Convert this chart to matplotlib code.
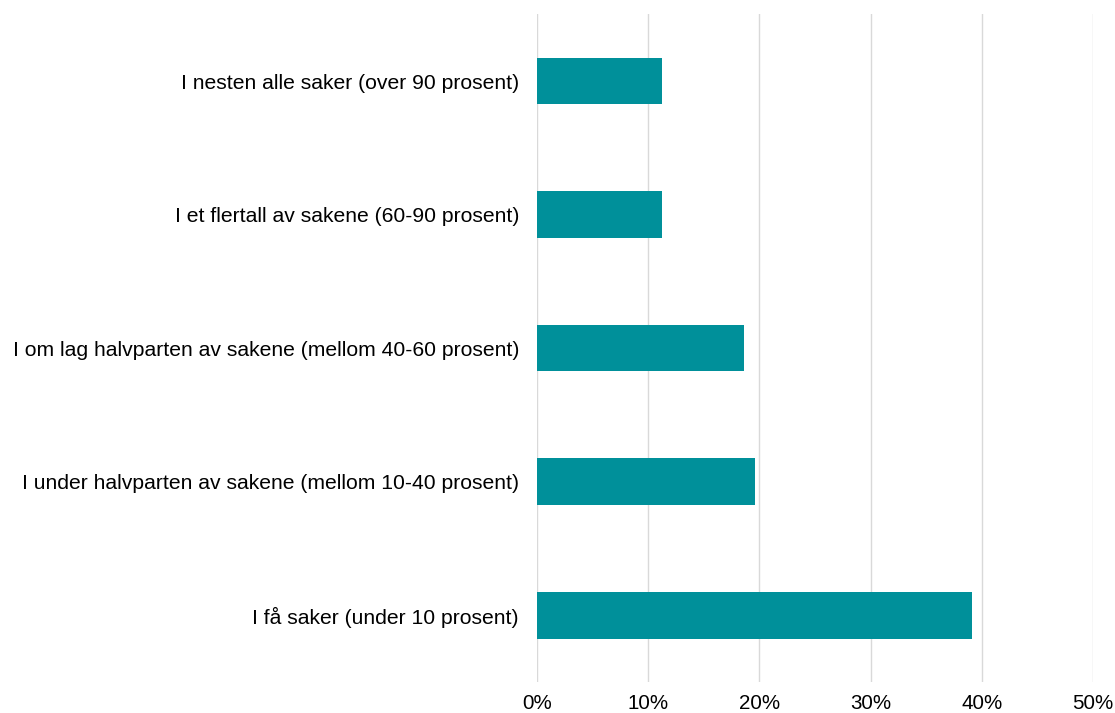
import matplotlib.pyplot as plt
from matplotlib.ticker import PercentFormatter

plt.rcParams['font.family'] = ['Liberation Sans', 'DejaVu Sans']

categories = [
    "I nesten alle saker (over 90 prosent)",
    "I et flertall av sakene (60-90 prosent)",
    "I om lag halvparten av sakene (mellom 40-60 prosent)",
    "I under halvparten av sakene (mellom 10-40 prosent)",
    "I få saker (under 10 prosent)",
]
values = [11.2, 11.2, 18.6, 19.6, 39.1]
ticks = [0, 10, 20, 30, 40, 50]

fig = plt.figure(figsize=(11.15, 7.13), dpi=100)
ax = fig.add_axes([0.4816, 0.0435, 0.4987, 0.9365])

pos = list(range(len(categories)))
ax.barh(pos, values, height=0.35, color='#00909a', zorder=3)

ax.set_ylim(len(categories) - 0.5, -0.5)
ax.set_yticks(pos)
ax.set_yticklabels(categories, fontsize=15.2)
ax.set_xlim(0, 50)
ax.set_xticks(ticks)
ax.xaxis.set_major_formatter(PercentFormatter(decimals=0))
ax.tick_params(axis='x', labelsize=14.8, length=0, pad=9)
ax.tick_params(axis='y', length=0, pad=13)

ax.grid(axis='x', color='#d9d9d9', linewidth=1, zorder=0)
for s in ax.spines.values():
    s.set_visible(False)

fig.savefig('out.png', dpi=100, facecolor='white')
